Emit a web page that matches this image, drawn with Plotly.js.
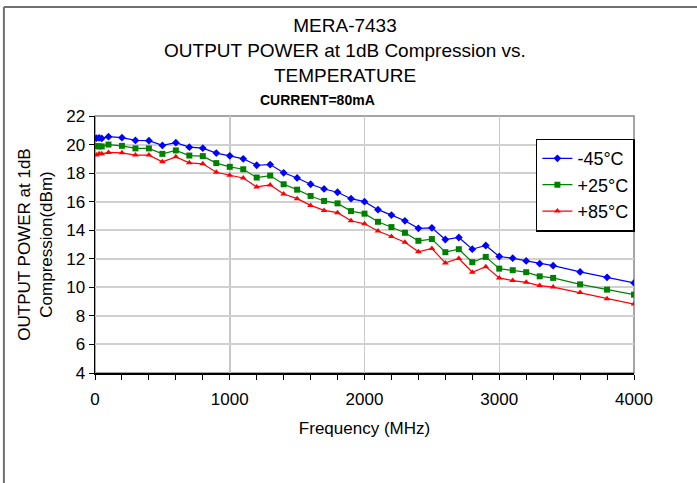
<!DOCTYPE html>
<html>
<head>
<meta charset="utf-8">
<script src="https://cdn.plot.ly/plotly-3.0.1.min.js"></script>
<style>html,body{margin:0;padding:0;background:#fff;}#chart{width:697px;height:483px;}</style>
</head>
<body>
<div id="chart"></div>
<script>
const freq = [10,30,50,100,200,300,400,500,600,700,800,900,1000,1100,1200,1300,1400,1500,1600,1700,1800,1900,2000,2100,2200,2300,2400,2500,2600,2700,2800,2900,3000,3100,3200,3300,3400,3600,3800,4000];
const pM45 = [20.45,20.47,20.43,20.55,20.48,20.29,20.27,19.94,20.13,19.82,19.75,19.40,19.21,19.00,18.55,18.60,18.02,17.66,17.22,16.89,16.66,16.21,16.00,15.44,15.06,14.66,14.13,14.17,13.35,13.49,12.67,12.93,12.16,12.04,11.85,11.66,11.52,11.08,10.70,10.31];
const p25 = [19.89,19.87,19.87,20.00,19.91,19.73,19.73,19.35,19.59,19.23,19.19,18.70,18.44,18.27,17.69,17.83,17.22,16.84,16.40,16.05,15.88,15.34,15.16,14.59,14.22,13.82,13.26,13.38,12.46,12.67,11.76,12.13,11.31,11.20,11.06,10.77,10.66,10.21,9.84,9.49];
const p85 = [19.26,19.35,19.35,19.45,19.42,19.26,19.26,18.79,19.14,18.72,18.65,18.06,17.85,17.66,17.03,17.17,16.54,16.21,15.74,15.39,15.23,14.66,14.45,13.94,13.56,13.16,12.49,12.72,11.71,12.02,11.06,11.45,10.66,10.47,10.35,10.12,10.02,9.63,9.20,8.83];
const seriesNames = ['-45°C','+25°C','+85°C'];
const yTicks = [4,6,8,10,12,14,16,18,20,22];
const xTicks = [0,1000,2000,3000,4000];

const traces = [
  {x: freq, y: pM45, name: seriesNames[0], mode: 'lines+markers', line: {color: '#0000ff', width: 1.2}, marker: {symbol: 'diamond', size: 6, color: '#0000ff'}},
  {x: freq, y: p25, name: seriesNames[1], mode: 'lines+markers', line: {color: '#008000', width: 1.2}, marker: {symbol: 'square', size: 6, color: '#008000'}},
  {x: freq, y: p85, name: seriesNames[2], mode: 'lines+markers', line: {color: '#ff0000', width: 1.2}, marker: {symbol: 'triangle-up', size: 6, color: '#ff0000'}}
];

const layout = {
  width: 697, height: 483,
  margin: {l: 95, r: 63, t: 116, b: 110},
  paper_bgcolor: '#ffffff', plot_bgcolor: '#ffffff',
  font: {family: 'Liberation Sans, Arial, sans-serif', color: '#000'},
  showlegend: true,
  title: {
    text: 'MERA-7433<br>OUTPUT POWER at 1dB Compression vs.<br>TEMPERATURE',
    font: {size: 19, color: '#000'},
    x: 0.495, xanchor: 'center', y: 0.933, yanchor: 'top'
  },
  xaxis: {
    range: [0, 4000], tickvals: xTicks, ticktext: xTicks.map(String),
    showgrid: true, gridcolor: '#c8c8c8', gridwidth: 1.5,
    showline: true, linecolor: '#000', linewidth: 1.5,
    ticks: 'outside', ticklen: 5, tickcolor: '#000', tickwidth: 1,
    minor: {dtick: 200, ticks: 'outside', ticklen: 5, tickcolor: '#000', showgrid: false},
    tickfont: {size: 17}, zeroline: false, ticklabelstandoff: 5,
    title: {text: 'Frequency (MHz)', font: {size: 17}, standoff: 14}
  },
  yaxis: {
    range: [4, 22], tickvals: yTicks, ticktext: yTicks.map(String),
    showgrid: true, gridcolor: '#d0d0d0', gridwidth: 2,
    showline: true, linecolor: '#000', linewidth: 1.5,
    ticks: 'outside', ticklen: 5, tickcolor: '#000', tickwidth: 1,
    tickfont: {size: 17}, zeroline: false,
    title: {text: 'OUTPUT POWER at 1dB<br>Compression(dBm)', font: {size: 17}, standoff: 9}
  },
  legend: {
    x: 0.818, y: 0.912, xanchor: 'left', yanchor: 'top',
    bgcolor: '#fff', bordercolor: '#000', borderwidth: 1.5,
    font: {size: 18}, itemwidth: 30, tracegroupgap: 0
  },
  annotations: [
    {text: '<b>CURRENT=80mA</b>', xref: 'paper', yref: 'paper', x: 0.413, y: 1.062, xanchor: 'center', yanchor: 'middle', showarrow: false, font: {size: 14}}
  ],
  shapes: [
    {type: 'rect', xref: 'paper', yref: 'paper', x0: 0, x1: 1, y0: 0, y1: 1, line: {color: '#888', width: 1.5}, layer: 'below'},
    {type: 'line', xref: 'paper', yref: 'paper', x0: -0.169, x1: 1.2, y0: 1.424, y1: 1.424, line: {color: '#707070', width: 2}},
    {type: 'line', xref: 'paper', yref: 'paper', x0: -0.169, x1: -0.169, y0: 1.424, y1: -0.45, line: {color: '#707070', width: 2}}
  ]
};

Plotly.newPlot('chart', traces, layout, {displayModeBar: false, staticPlot: true});
</script>
</body>
</html>
